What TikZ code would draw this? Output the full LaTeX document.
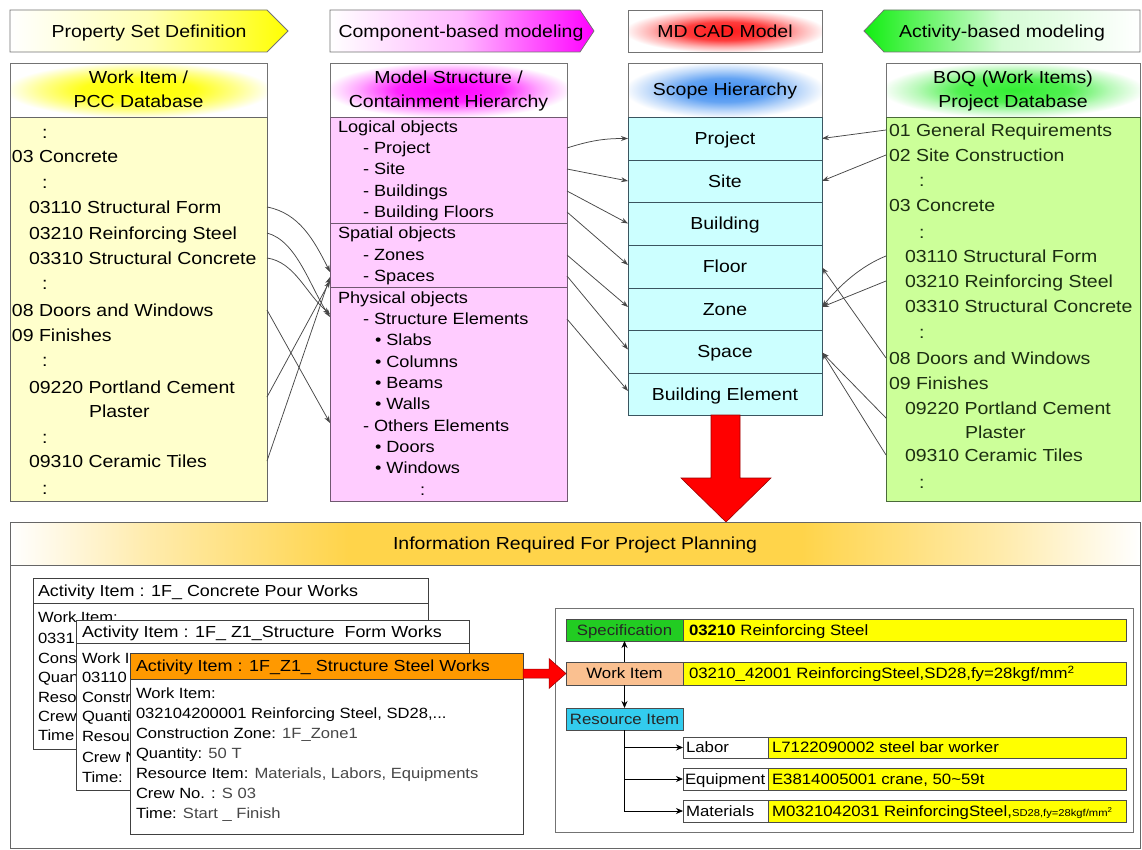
\documentclass[tikz,border=0pt]{standalone}
\usepackage{fontspec}
\setmainfont{Liberation Sans}[FakeStretch=1.12]
\usetikzlibrary{arrows.meta,calc}

\definecolor{lyellow}{HTML}{FFFFCC}
\definecolor{lpink}{HTML}{FFCCFF}
\definecolor{lcyan}{HTML}{CCFFFF}
\definecolor{lgreen}{HTML}{CCFF99}
\definecolor{pinkborder}{HTML}{705870}
\definecolor{cyanborder}{HTML}{3A5560}
\definecolor{greenborder}{HTML}{4A6A3A}
\definecolor{gtext}{HTML}{1C2E12}
\definecolor{orangeT}{HTML}{FF9900}
\definecolor{specgreen}{HTML}{22CC22}
\definecolor{peach}{HTML}{FAC090}
\definecolor{rescyan}{HTML}{33CCEE}
\definecolor{valyellow}{HTML}{FFFF00}
\definecolor{bandgold}{HTML}{FFD44A}
\definecolor{glowblue}{HTML}{3C8CF0}
\definecolor{glowgreen}{HTML}{33EE33}
\definecolor{glowred}{HTML}{FF1A1A}
\definecolor{bannergreen}{HTML}{11EE11}

\pgfdeclareradialshading{glowY}{\pgfpoint{0bp}{0bp}}{color(0bp)=(yellow); color(11bp)=(yellow!90!white); color(19bp)=(yellow!45!white); color(26bp)=(white); color(50bp)=(white)}
\pgfdeclareradialshading{glowM}{\pgfpoint{0bp}{0bp}}{color(0bp)=(magenta); color(11bp)=(magenta!85!white); color(19bp)=(magenta!35!white); color(26bp)=(white); color(50bp)=(white)}
\pgfdeclareradialshading{glowB}{\pgfpoint{0bp}{0bp}}{color(0bp)=(glowblue); color(11bp)=(glowblue!80!white); color(19bp)=(glowblue!35!white); color(26bp)=(white); color(50bp)=(white)}
\pgfdeclareradialshading{glowG}{\pgfpoint{0bp}{0bp}}{color(0bp)=(glowgreen); color(11bp)=(glowgreen!85!white); color(19bp)=(glowgreen!35!white); color(26bp)=(white); color(50bp)=(white)}
\pgfdeclareradialshading{glowR}{\pgfpoint{0bp}{0bp}}{color(0bp)=(glowred); color(11bp)=(glowred!85!white); color(19bp)=(glowred!35!white); color(26bp)=(white); color(50bp)=(white)}
\pgfdeclarehorizontalshading{bandshade}{100bp}{color(0bp)=(white); color(25bp)=(white); color(31bp)=(bandgold!45!white); color(40bp)=(bandgold); color(60bp)=(bandgold); color(69bp)=(bandgold!45!white); color(75bp)=(white); color(100bp)=(white)}

\newcommand\bx[7]{%
  \pgfmathsetmacro\myW{#5-#3}%
  \pgfmathsetmacro\myH{#6-#4}%
  \pgfmathsetmacro\myX{(#3+#5)/2}%
  \pgfmathsetmacro\myY{(#4+#6)/2}%
  \node[inner sep=0pt, outer sep=0pt, minimum width=\myW pt, minimum height=\myH pt, #2] (#1) at (\myX,\myY) {#7};}

\begin{document}
\begin{tikzpicture}[x=1pt,y=-1pt,
  hdr/.style={font=\fontsize{17.4}{20}\selectfont, inner sep=0pt, outer sep=0pt, text height=12.5pt, text depth=0pt},
  tA/.style={font=\fontsize{17.4}{20}\selectfont, inner sep=0pt, outer sep=0pt, anchor=west, text height=12.5pt, text depth=0pt},
  tB/.style={font=\fontsize{16.2}{19}\selectfont, inner sep=0pt, outer sep=0pt, anchor=west, text height=11.6pt, text depth=0pt},
  tD/.style={tA, text=gtext},
  row/.style={draw=cyanborder, line width=0.9pt, fill=lcyan, font=\fontsize{17.4}{20}\selectfont, text height=12.5pt, text depth=0pt},
  card/.style={draw=black!75, line width=0.8pt, fill=white},
  ctitle/.style={font=\fontsize{16}{19}\selectfont, inner sep=0pt, outer sep=0pt, anchor=west, text height=11.5pt, text depth=0pt},
  ctxt/.style={font=\fontsize{14.8}{18}\selectfont, inner sep=0pt, outer sep=0pt, anchor=west, text height=10.6pt, text depth=0pt},
  rbox/.style={draw=black!70, line width=0.7pt, font=\fontsize{15}{18}\selectfont, text height=10.7pt, text depth=0pt},
  rtxt/.style={font=\fontsize{15}{18}\selectfont, inner sep=0pt, outer sep=0pt, anchor=west, text height=10.7pt, text depth=0pt},
  conn/.style={draw=black!72, line width=0.75pt, -{Stealth[length=7pt,width=5pt]}},
  rarrow/.style={draw=black, line width=0.8pt, -{Stealth[length=7pt,width=6pt]}},
  val/.style={text=black!72}
]
\useasboundingbox (0,0) rectangle (1142,850);
\fill[white] (0,0) rectangle (1142,850);

% ---------- top banners ----------
\path[draw=black!55, line width=0.8pt, left color=white, right color=yellow, middle color=yellow!30!white]
  (10,10) -- (267,10) -- (288,31) -- (267,52) -- (10,52) -- cycle;
\node[hdr] (tPSD) at (149,31) {Property Set Definition};
\path[draw=black!55, line width=0.8pt, left color=white, right color=magenta, middle color=magenta!28!white]
  (330,10) -- (580,10) -- (594,31) -- (580,52) -- (330,52) -- cycle;
\node[hdr] (tCBM) at (461,31) {Component-based modeling};
\bx{bMD}{draw=black!55, line width=0.8pt, shading=glowR}{628}{10}{822}{52}{}
\node[hdr] (tMD) at (725,31) {MD CAD Model};
\path[draw=black!55, line width=0.8pt, left color=bannergreen, right color=white, middle color=bannergreen!18!white]
  (1140,10) -- (884,10) -- (864,31) -- (884,52) -- (1140,52) -- cycle;
\node[hdr] (tABM) at (1002,31) {Activity-based modeling};

% ---------- second row headers ----------
\bx{hA}{draw=black!55, line width=0.8pt, shading=glowY}{10}{63}{267}{117}{}
\node[hdr] (hA1) at (138.5,77) {Work Item /};
\node[hdr] (hA2) at (138.5,101) {PCC Database};
\bx{hB}{draw=black!55, line width=0.8pt, shading=glowM}{330}{63}{567}{117}{}
\node[hdr] (hB1) at (448.5,77) {Model Structure /};
\node[hdr] (hB2) at (448.5,101) {Containment Hierarchy};
\bx{hC}{draw=black!55, line width=0.8pt, shading=glowB}{628}{63}{822}{117}{}
\node[hdr] (hC1) at (725,89) {Scope Hierarchy};
\bx{hD}{draw=black!55, line width=0.8pt, shading=glowG}{886}{63}{1140}{117}{}
\node[hdr] (hD1) at (1013,77) {BOQ (Work Items)};
\node[hdr] (hD2) at (1013,101) {Project Database};

% ---------- column A ----------
\bx{bodyA}{draw=black!60, line width=0.9pt, fill=lyellow}{10}{117}{267}{501}{}
\node[tA] (tAc1) at (42,132) {:};
\node[tA] (tA03) at (12,156) {03 Concrete};
\node[tA] (tAc2) at (42,182) {:};
\node[tA] (tA3110) at (29,207) {03110 Structural Form};
\node[tA] (tA3210) at (29,233) {03210 Reinforcing Steel};
\node[tA] (tA3310) at (29,258) {03310 Structural Concrete};
\node[tA] (tAc3) at (42,283) {:};
\node[tA] (tA08) at (12,310) {08 Doors and Windows};
\node[tA] (tA09) at (12,335) {09 Finishes};
\node[tA] (tAc4) at (42,360) {:};
\node[tA] (tA9220) at (29,387) {09220 Portland Cement};
\node[tA] (tAplaster) at (89,411) {Plaster};
\node[tA] (tAc5) at (42,437) {:};
\node[tA] (tA9310) at (29,461) {09310 Ceramic Tiles};
\node[tA] (tAc6) at (42,488) {:};

% ---------- column B ----------
\bx{secLog}{draw=pinkborder, line width=0.9pt, fill=lpink}{330}{117}{567}{223}{}
\bx{secSpa}{draw=pinkborder, line width=0.9pt, fill=lpink}{330}{223}{567}{287}{}
\bx{secPhy}{draw=pinkborder, line width=0.9pt, fill=lpink}{330}{287}{567}{501}{}
\node[tB] (tBlog) at (338,127) {Logical objects};
\node[tB] (tBproject) at (363,148) {- Project};
\node[tB] (tBsite) at (363,169) {- Site};
\node[tB] (tBbuild) at (363,191) {- Buildings};
\node[tB] (tBfloor) at (363,212) {- Building Floors};
\node[tB] (tBspa) at (338,233) {Spatial objects};
\node[tB] (tBzones) at (363,255) {- Zones};
\node[tB] (tBspaces) at (363,276) {- Spaces};
\node[tB] (tBphy) at (338,298) {Physical objects};
\node[tB] (tBstruct) at (363,319) {- Structure Elements};
\node[tB] (tBslabs) at (375,340) {• Slabs};
\node[tB] (tBcols) at (375,362) {• Columns};
\node[tB] (tBbeams) at (375,383) {• Beams};
\node[tB] (tBwalls) at (375,404) {• Walls};
\node[tB] (tBothers) at (363,426) {- Others Elements};
\node[tB] (tBdoors) at (375,447) {• Doors};
\node[tB] (tBwin) at (375,468) {• Windows};
\node[tB] (tBcol) at (420,490) {:};

% ---------- column C ----------
\bx{sProject}{row}{628}{117}{822}{160}{Project}
\bx{sSite}{row}{628}{160}{822}{202}{Site}
\bx{sBuilding}{row}{628}{202}{822}{245}{Building}
\bx{sFloor}{row}{628}{245}{822}{288}{Floor}
\bx{sZone}{row}{628}{288}{822}{330}{Zone}
\bx{sSpace}{row}{628}{330}{822}{373}{Space}
\bx{sBE}{row}{628}{373}{822}{415}{Building Element}

% ---------- column D ----------
\bx{bodyD}{draw=greenborder, line width=0.9pt, fill=lgreen}{886}{117}{1140}{501}{}
\node[tD] (tD01) at (889,130) {01 General Requirements};
\node[tD] (tD02) at (889,155) {02 Site Construction};
\node[tD] (tDc1) at (919,180) {:};
\node[tD] (tD03) at (889,205) {03 Concrete};
\node[tD] (tDc2) at (919,232) {:};
\node[tD] (tD3110) at (905,256) {03110 Structural Form};
\node[tD] (tD3210) at (905,281) {03210 Reinforcing Steel};
\node[tD] (tD3310) at (905,306) {03310 Structural Concrete};
\node[tD] (tDc3) at (919,332) {:};
\node[tD] (tD08) at (889,358) {08 Doors and Windows};
\node[tD] (tD09) at (889,383) {09 Finishes};
\node[tD] (tD9220) at (905,408) {09220 Portland Cement};
\node[tD] (tDplaster) at (965,432) {Plaster};
\node[tD] (tD9310) at (905,455) {09310 Ceramic Tiles};
\node[tD] (tDc4) at (919,482) {:};

% ---------- connectors A -> B ----------
\draw[conn] (tA3110.west -| bodyA.east) .. controls +(32,6) and +(-16,-32) .. ($(secSpa.west |- tBspaces.west)+(0,-4)$);
\draw[conn] (tA3210.west -| bodyA.east) .. controls +(30,8) and +(-20,-30) .. ($(secPhy.west |- tBstruct.west)+(0,-2)$);
\draw[conn] (tA3310.west -| bodyA.east) .. controls +(28,4) and +(-24,-20) .. ($(secPhy.west |- tBstruct.west)+(0,-5)$);
\draw[conn] (tA08.west -| bodyA.east) -- ($(secPhy.west |- tBothers.west)+(0,-3)$);
\draw[conn] ($(tA9220.west -| bodyA.east)+(0,10)$) -- ($(secSpa.west |- tBspaces.west)+(0,5)$);
\draw[conn] (tA9310.west -| bodyA.east) -- ($(secSpa.west |- tBspaces.west)+(0,1)$);

% ---------- connectors B -> C ----------
\draw[conn] (tBproject.west -| secLog.east) .. controls +(25,-8) and +(-22,0) .. (sProject.west);
\draw[conn] (tBsite.west -| secLog.east) -- (sSite.west);
\draw[conn] (tBbuild.west -| secLog.east) -- (sBuilding.west);
\draw[conn] (tBfloor.west -| secLog.east) -- ($(sFloor.west)+(0,-1.5)$);
\draw[conn] (tBzones.west -| secSpa.east) -- ($(sZone.west)+(0,-2)$);
\draw[conn] (tBspaces.west -| secSpa.east) -- ($(sSpace.west)+(0,-2)$);
\draw[conn] (tBstruct.west -| secPhy.east) -- ($(sBE.west)+(0,-3)$);

% ---------- connectors D -> C ----------
\draw[conn] (tD01.west -| bodyD.west) -- (sProject.east);
\draw[conn] (tD02.west -| bodyD.west) -- (sSite.east);
\draw[conn] (tD3110.west -| bodyD.west) .. controls +(-25,10) and +(18,-22) .. ($(sZone.east)+(0,-2)$);
\draw[conn] (tD3210.west -| bodyD.west) -- ($(sZone.east)+(0,-2)$);
\draw[conn] (tD08.west -| bodyD.west) -- ($(sFloor.east)+(0,1)$);
\draw[conn] ($(tD9220.west -| bodyD.west)+(0,10)$) -- ($(sSpace.east)+(0,1)$);
\draw[conn] (tD9310.west -| bodyD.west) -- ($(sSpace.east)+(0,1)$);

% ---------- big red arrow ----------
\path[fill=red, draw=red!60!black, line width=0.6pt]
  ($(sBE.south)+(-14,0)$) -- ($(sBE.south)+(15,0)$) -- ($(sBE.south)+(15,63)$) -- ($(sBE.south)+(46,63)$)
  -- ($(sBE.south)+(1,107)$) -- ($(sBE.south)+(-44,63)$) -- ($(sBE.south)+(-14,63)$) -- cycle;

% ---------- planning section ----------
\bx{planBox}{draw=black!60, line width=0.9pt}{10}{522}{1140}{848}{}
\bx{planHead}{draw=black!60, line width=0.9pt, shading=bandshade, font=\fontsize{17.4}{20}\selectfont, text height=12.5pt, text depth=0pt}{10}{522}{1140}{565}{Information Required For Project Planning}

% card 1
\bx{c1}{card}{33}{578}{428}{749}{}
\bx{c1t}{card}{33}{578}{428}{603}{}
\node[ctitle] (c1title) at (38,590.5) {Activity Item : 1F\_ Concrete Pour Works};
\node[ctxt] (c1l1) at (38,617) {Work Item:};
\node[ctxt] (c1l2) at (38,638) {0331};
\node[ctxt] (c1l3) at (38,658) {Cons};
\node[ctxt] (c1l4) at (38,677) {Quan};
\node[ctxt] (c1l5) at (38,697) {Reso};
\node[ctxt] (c1l6) at (38,716) {Crew};
\node[ctxt] (c1l7) at (38,735) {Time};
% card 2
\bx{c2}{card}{76}{620}{469}{790}{}
\bx{c2t}{card}{76}{620}{469}{643}{}
\node[ctitle] (c2title) at (82,631.5) {Activity Item : 1F\_ Z1\_Structure\ \ Form Works};
\node[ctxt] (c2l1) at (82,658) {Work I};
\node[ctxt] (c2l2) at (82,677) {03110};
\node[ctxt] (c2l3) at (82,697) {Constr};
\node[ctxt] (c2l4) at (82,716) {Quanti};
\node[ctxt] (c2l5) at (82,736) {Resou};
\node[ctxt] (c2l6) at (82,757) {Crew N};
\node[ctxt] (c2l7) at (82,777) {Time:};
% card 3
\bx{c3}{card}{130}{653}{523}{834}{}
\bx{c3t}{card, fill=orangeT}{130}{653}{523}{679}{}
\node[ctitle] (c3title) at (136,666) {Activity Item : 1F\_Z1\_ Structure Steel Works};
\node[ctxt] (c3l1) at (136,693) {Work Item:};
\node[ctxt] (c3l2) at (136,713) {032104200001 Reinforcing Steel, SD28,...};
\node[ctxt] (c3l3) at (136,733) {Construction Zone: {\color{black!72}1F\_Zone1}};
\node[ctxt] (c3l4) at (136,753) {Quantity: {\color{black!72}50 T}};
\node[ctxt] (c3l5) at (136,773) {Resource Item: {\color{black!72}Materials, Labors, Equipments}};
\node[ctxt] (c3l6) at (136,793) {Crew No. : {\color{black!72}S 03}};
\node[ctxt] (c3l7) at (136,813) {Time: {\color{black!72}Start \_ Finish}};

% right panel
\bx{rp}{draw=black!55, line width=0.8pt}{555}{608}{1133}{832}{}
\bx{specL}{rbox, fill=specgreen, text=black!85}{566}{619}{683}{641}{Specification}
\bx{specV}{rbox, fill=valyellow}{683}{619}{1126}{641}{}
\node[rtxt] (specVt) at (689,630) {\textbf{03210} Reinforcing Steel};
\bx{wiL}{rbox, fill=peach}{566}{662}{683}{685}{Work Item}
\bx{wiV}{rbox, fill=valyellow}{683}{662}{1126}{685}{}
\node[rtxt] (wiVt) at (689,673.5) {03210\_42001 ReinforcingSteel,SD28,fy=28kgf/mm\textsuperscript{2}};
\bx{riL}{rbox, fill=rescyan, text=black!85}{566}{708}{683}{730}{Resource Item}
\bx{labL}{rbox, fill=white}{683}{737}{768}{758}{}
\node[rtxt] (labLt) at (686,747.5) {Labor};
\bx{labV}{rbox, fill=valyellow}{768}{737}{1126}{758}{}
\node[rtxt] (labVt) at (772,747.5) {L7122090002 steel bar worker};
\bx{eqL}{rbox, fill=white}{683}{768}{768}{790}{}
\node[rtxt] (eqLt) at (685,779) {Equipment};
\bx{eqV}{rbox, fill=valyellow}{768}{768}{1126}{790}{}
\node[rtxt] (eqVt) at (772,779) {E3814005001 crane, 50\textasciitilde59t};
\bx{maL}{rbox, fill=white}{683}{800}{768}{822}{}
\node[rtxt] (maLt) at (686,811) {Materials};
\bx{maV}{rbox, fill=valyellow}{768}{800}{1126}{822}{}
\node[rtxt] (maVt) at (772,811) {M0321042031 ReinforcingSteel,{\fontsize{10}{12}\selectfont SD28,fy=28kgf/mm\textsuperscript{2}}};

\draw[rarrow] (wiL.north) -- (specL.south);
\draw[rarrow] (wiL.south) -- (riL.north);
\draw[rarrow] (riL.south) |- (labL.west);
\draw[rarrow] (riL.south) |- (eqL.west);
\draw[rarrow] (riL.south) |- (maL.west);

% red arrow card -> work item
\coordinate (raS) at (c3.east |- wiL.west);
\path[fill=red, draw=red!60!black, line width=0.5pt]
  ($(raS)+(0,-4.5)$) -- ($(raS)+(26,-4.5)$) -- ($(raS)+(26,-15)$) -- (wiL.west)
  -- ($(raS)+(26,15)$) -- ($(raS)+(26,4.5)$) -- ($(raS)+(0,4.5)$) -- cycle;
\end{tikzpicture}
\end{document}
